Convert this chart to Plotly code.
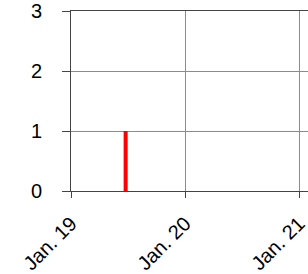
import plotly.graph_objects as go
import pandas as pd

event_times = ["2021-01-19 11:30"]
event_values = [1]
tick_dates = ["2021-01-19", "2021-01-20", "2021-01-21"]
tick_labels = ["Jan. 19", "Jan. 20", "Jan. 21"]
y_ticks = [0, 1, 2, 3]

fig = go.Figure()
for t, v in zip(event_times, event_values):
    fig.add_trace(go.Scatter(x=[t, t], y=[0, v], mode="lines",
                             line=dict(color="#ff0000", width=4), showlegend=False))

start = pd.Timestamp(tick_dates[0])
end = start + pd.Timedelta(days=237 / 114)

fig.update_layout(
    width=308, height=274,
    margin=dict(l=71, r=0, t=11, b=83),
    paper_bgcolor="white", plot_bgcolor="white",
    font=dict(family="Liberation Sans, Arial", color="#000"),
)
fig.update_xaxes(
    range=[start, end], tickvals=tick_dates, ticktext=tick_labels,
    tickangle=-45, tickfont=dict(size=20), automargin=False,
    ticklabeloverflow="allow",
    showgrid=True, gridcolor="#8c8c8c", gridwidth=1,
    ticks="outside", ticklen=6, tickcolor="#444", ticklabelstandoff=6,
    showline=True, linecolor="#444", linewidth=1, zeroline=False, mirror=True,
)
fig.update_yaxes(
    range=[0, 3], tickvals=y_ticks, tickfont=dict(size=20), automargin=False,
    showgrid=True, gridcolor="#8c8c8c", gridwidth=1,
    ticks="outside", ticklen=8, tickcolor="#444", ticklabelstandoff=16,
    showline=True, linecolor="#444", linewidth=1, zeroline=False,
)
fig.write_html("out.html", config={"displayModeBar": False},
               post_script="document.body.style.margin='0';document.body.style.overflow='hidden';")
